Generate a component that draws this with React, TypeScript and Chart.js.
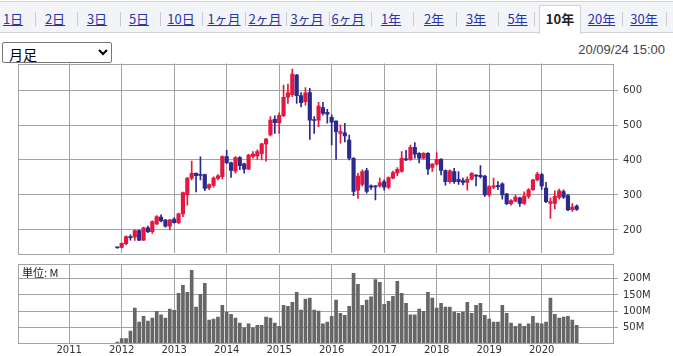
import React, { useEffect, useRef } from 'react';
import { Chart, registerables } from 'chart.js';

Chart.register(...registerables);

// x index 0 = January 2011; first candle is December 2011 (index 11)
const baseYear = 2011;
const firstMonthIndex = 11;

const opens = [
  150,
  150, 161, 180, 179, 198, 171, 206, 195, 217, 237, 228, 211,
  231, 221, 246, 300, 348, 362, 358, 358, 320, 327, 347, 352,
  410, 392, 368, 407, 389, 374, 410, 412, 418, 446, 472, 516,
  506, 527, 580, 587, 643, 584, 567, 593, 515, 514, 550, 536,
  522, 511, 476, 478, 457, 405, 314, 330, 370, 326, 324, 326,
  338, 322, 348, 362, 367, 403, 401, 436, 419, 405, 419, 379,
  388, 402, 370, 338, 367, 345, 341, 336, 345, 356, 356, 354,
  300, 322, 327, 332, 303, 275, 282, 292, 276, 296, 315, 343,
  358, 320, 276, 276, 293, 310, 298, 258, 268,
];
const highs = [
  151,
  163, 183, 186, 200, 200, 208, 211, 226, 241, 243, 230, 230,
  235, 248, 308, 350, 397, 363, 409, 360, 332, 352, 358, 412,
  428, 394, 410, 410, 391, 416, 424, 429, 448, 462, 524, 526,
  535, 614, 617, 660, 645, 593, 607, 605, 524, 565, 565, 545,
  529, 512, 500, 505, 471, 407, 362, 372, 376, 329, 327, 348,
  343, 352, 368, 378, 424, 428, 443, 450, 421, 421, 421, 390,
  421, 404, 372, 372, 376, 367, 348, 352, 364, 358, 384, 356,
  327, 348, 338, 335, 305, 287, 300, 294, 309, 318, 345, 365,
  362, 336, 292, 312, 317, 315, 302, 275, 272,
];
const lows = [
  147,
  149, 157, 171, 170, 169, 169, 192, 190, 215, 223, 208, 200,
  219, 218, 238, 271, 343, 309, 343, 312, 315, 322, 343, 346,
  390, 350, 362, 372, 362, 372, 405, 402, 400, 397, 469, 476,
  476, 524, 562, 581, 562, 552, 557, 459, 476, 495, 528, 505,
  443, 402, 448, 452, 400, 298, 290, 325, 305, 316, 286, 322,
  314, 318, 346, 355, 365, 398, 399, 405, 392, 403, 359, 367,
  385, 357, 328, 334, 333, 330, 329, 314, 343, 326, 348, 296,
  296, 318, 315, 288, 272, 271, 280, 267, 273, 290, 313, 340,
  316, 278, 233, 260, 288, 290, 255, 253, 256,
];
const closes = [
  149,
  162, 181, 178, 198, 171, 206, 195, 224, 238, 226, 211, 229,
  221, 246, 307, 348, 362, 355, 356, 319, 330, 348, 355, 410,
  392, 370, 407, 384, 374, 414, 417, 424, 446, 460, 514, 507,
  528, 579, 592, 646, 584, 564, 592, 514, 513, 554, 533, 531,
  508, 481, 481, 469, 405, 310, 354, 367, 310, 322, 323, 335,
  322, 350, 364, 373, 405, 400, 436, 417, 405, 419, 374, 388,
  402, 370, 338, 369, 338, 338, 336, 345, 362, 354, 352, 300,
  324, 326, 324, 300, 275, 284, 294, 276, 297, 315, 343, 360,
  326, 281, 281, 296, 312, 294, 257, 265, 259,
];
// monthly volume, millions of shares
const volumes = [
  4,
  15, 15, 38, 109, 66, 84, 69, 78, 99, 88, 78, 106,
  102, 155, 180, 158, 226, 112, 152, 186, 72, 75, 81, 118,
  97, 90, 78, 63, 48, 60, 48, 56, 56, 81, 78, 63,
  53, 118, 115, 127, 158, 103, 137, 140, 103, 100, 60, 66,
  84, 134, 93, 87, 115, 217, 183, 118, 134, 144, 198, 189,
  121, 130, 146, 192, 155, 124, 88, 88, 106, 99, 158, 140,
  109, 124, 112, 112, 97, 93, 97, 127, 93, 118, 124, 87,
  75, 66, 66, 118, 93, 63, 53, 60, 53, 60, 84, 63,
  60, 66, 140, 90, 78, 81, 84, 72, 56,
];

const yearLabels = [2011, 2012, 2013, 2014, 2015, 2016, 2017, 2018, 2019, 2020];
const priceTicks = [200, 300, 400, 500, 600];
const volumeTicks = [50, 100, 150, 200];

const tabs = ['1日', '2日', '3日', '5日', '10日', '1ヶ月', '2ヶ月', '3ヶ月', '6ヶ月', '1年', '2年', '3年', '5年', '10年', '20年', '30年'];
const selectedTab = '10年';
const tabCenters = [13, 55, 97, 139, 181, 224, 265, 307, 348, 391, 434, 476, 517.5, 560, 601.5, 644];
const separators = [34.5, 76.5, 119.5, 160, 202, 245, 286, 328.5, 370.5, 413, 455.5, 497.5, 534, 622, 666];
const timestamp = '20/09/24 15:00';

const UP = '#e3173f';
const DOWN = '#2b2a8c';
const GRID = '#a3a3a3';
const VOL = '#666666';
const AXIS_FONT = { family: '"DejaVu Sans", Verdana, sans-serif', size: 10 };

const framePlugin = {
  id: 'frame',
  afterDraw(chart: any) {
    const { ctx, chartArea: a } = chart;
    ctx.save();
    ctx.strokeStyle = GRID;
    ctx.lineWidth = 1;
    ctx.strokeRect(Math.round(a.left) + 0.5, Math.round(a.top) + 0.5, Math.round(a.right - a.left), Math.round(a.bottom - a.top));
    ctx.restore();
  },
};

const xRange = { min: -11.7, max: 124.3 };
const yearTickValues = () => yearLabels.map((y) => ({ value: (y - baseYear) * 12 }));
const noPad = (s: any) => {
  s.paddingTop = 0;
  s.paddingBottom = 0;
  s.paddingLeft = 0;
  s.paddingRight = 0;
};

function PriceChart() {
  const ref = useRef<HTMLCanvasElement>(null);
  useEffect(() => {
    const colors = opens.map((o, i) => (closes[i] >= o ? UP : DOWN));
    const wicks = opens.map((_, i) => ({ x: firstMonthIndex + i, y: [lows[i], highs[i]] }));
    const bodies = opens.map((o, i) => ({ x: firstMonthIndex + i, y: [o, closes[i]] }));
    const chart = new Chart(ref.current as HTMLCanvasElement, {
      type: 'bar',
      data: {
        datasets: [
          { data: wicks as any, backgroundColor: colors, barThickness: 1, grouped: false, order: 2 } as any,
          { data: bodies as any, backgroundColor: colors, barThickness: 3.5, grouped: false, minBarLength: 1, order: 1 } as any,
        ],
      },
      options: {
        animation: false,
        responsive: false,
        devicePixelRatio: 1,
        layout: { padding: { left: 18, top: 3.5, right: 0, bottom: 0 } },
        plugins: { legend: { display: false }, tooltip: { enabled: false } },
        scales: {
          x: {
            type: 'linear',
            min: xRange.min,
            max: xRange.max,
            offset: false,
            afterBuildTicks: (s: any) => { s.ticks = yearTickValues(); },
            ticks: { display: false },
            grid: { color: GRID, drawTicks: false, offset: false },
            border: { display: false },
            afterFit: (s: any) => { s.height = 7; noPad(s); },
          },
          y: {
            position: 'right',
            min: 134,
            max: 676,
            afterBuildTicks: (s: any) => { s.ticks = priceTicks.map((v) => ({ value: v })); },
            ticks: { font: AXIS_FONT, color: '#333', padding: 5 },
            grid: { color: GRID, tickLength: 5 },
            border: { display: false },
            afterFit: (s: any) => { s.width = 60; noPad(s); },
          },
        },
      } as any,
      plugins: [framePlugin],
    });
    return () => chart.destroy();
  }, []);
  return <canvas ref={ref} width={673} height={200} style={{ position: 'absolute', left: 0, top: 60, width: 673, height: 200 }} />;
}

function VolumeChart() {
  const ref = useRef<HTMLCanvasElement>(null);
  useEffect(() => {
    const bars = volumes.map((v, i) => ({ x: firstMonthIndex + i, y: v }));
    const chart = new Chart(ref.current as HTMLCanvasElement, {
      type: 'bar',
      data: { datasets: [{ data: bars as any, backgroundColor: VOL, barThickness: 3, grouped: false } as any] },
      options: {
        animation: false,
        responsive: false,
        devicePixelRatio: 1,
        layout: { padding: { left: 18, top: 4.3, right: 0, bottom: 0 } },
        plugins: { legend: { display: false }, tooltip: { enabled: false } },
        scales: {
          x: {
            type: 'linear',
            min: xRange.min,
            max: xRange.max,
            offset: false,
            afterBuildTicks: (s: any) => { s.ticks = yearTickValues(); },
            ticks: {
              font: AXIS_FONT,
              color: '#333',
              padding: 1,
              maxRotation: 0,
              autoSkip: false,
              callback: (v: any) => String(baseYear + Math.round(Number(v) / 12)),
            },
            grid: { color: GRID, drawTicks: false, offset: false },
            border: { display: false },
            afterFit: (s: any) => { s.height = 12.7; noPad(s); },
          },
          y: {
            position: 'right',
            min: 0,
            max: 245,
            afterBuildTicks: (s: any) => { s.ticks = volumeTicks.map((v) => ({ value: v })); },
            ticks: { font: AXIS_FONT, color: '#333', padding: 5, callback: (v: any) => `${v}M` },
            grid: { color: GRID, tickLength: 5 },
            border: { display: false },
            afterFit: (s: any) => { s.width = 60; noPad(s); },
          },
        },
      } as any,
      plugins: [framePlugin],
    });
    return () => chart.destroy();
  }, []);
  return <canvas ref={ref} width={673} height={96} style={{ position: 'absolute', left: 0, top: 260, width: 673, height: 96 }} />;
}

export default function App() {
  const cjk = '"Noto Sans CJK JP", "Noto Sans", sans-serif';
  return (
    <div style={{ position: 'fixed', left: 0, top: 0, width: 673, height: 356, background: '#fff', overflow: 'hidden', fontFamily: cjk }}>
      <div style={{ position: 'absolute', left: 0, top: 1, width: 673, height: 32, background: '#f2f4f8', borderTop: '1px solid #cfd2d8', borderBottom: '1px solid #cfd2d8', boxSizing: 'border-box' }} />
      {separators.map((x, i) => (
        <div key={'s' + i} style={{ position: 'absolute', left: x, top: 12, width: 1, height: 14, background: '#c9ccd3' }} />
      ))}
      <div style={{ position: 'absolute', left: 539, top: 5, width: 42, height: 29, background: '#fff', border: '1px solid #cfd2d8', borderBottom: 'none', boxSizing: 'border-box' }} />
      {tabs.map((t, i) => (
        <div
          key={t}
          style={{
            position: 'absolute',
            left: tabCenters[i] - 30,
            width: 60,
            top: 10,
            height: 18,
            lineHeight: '18px',
            textAlign: 'center',
            fontSize: 13,
            color: t === selectedTab ? '#222' : '#2a35a8',
            fontWeight: t === selectedTab ? 700 : 400,
            textDecoration: t === selectedTab ? 'none' : 'underline',
            whiteSpace: 'nowrap',
          }}
        >
          {t}
        </div>
      ))}
      <select
        defaultValue="月足"
        style={{ position: 'absolute', left: 2, top: 42, width: 110, height: 21, fontSize: 14, fontFamily: cjk, padding: '0 2px', border: '1px solid #767676', borderRadius: 2, background: '#fff', color: '#000' }}
      >
        <option value="月足">月足</option>
        <option value="週足">週足</option>
        <option value="日足">日足</option>
      </select>
      <div style={{ position: 'absolute', right: 8, top: 42, fontSize: 13, lineHeight: '16px', fontFamily: '"Liberation Sans", Arial, sans-serif', color: '#444' }}>
        {timestamp}
      </div>
      <PriceChart />
      <VolumeChart />
      <div style={{ position: 'absolute', left: 22, top: 266, fontSize: 11, lineHeight: '13px', color: '#222' }}>単位: M</div>
    </div>
  );
}
